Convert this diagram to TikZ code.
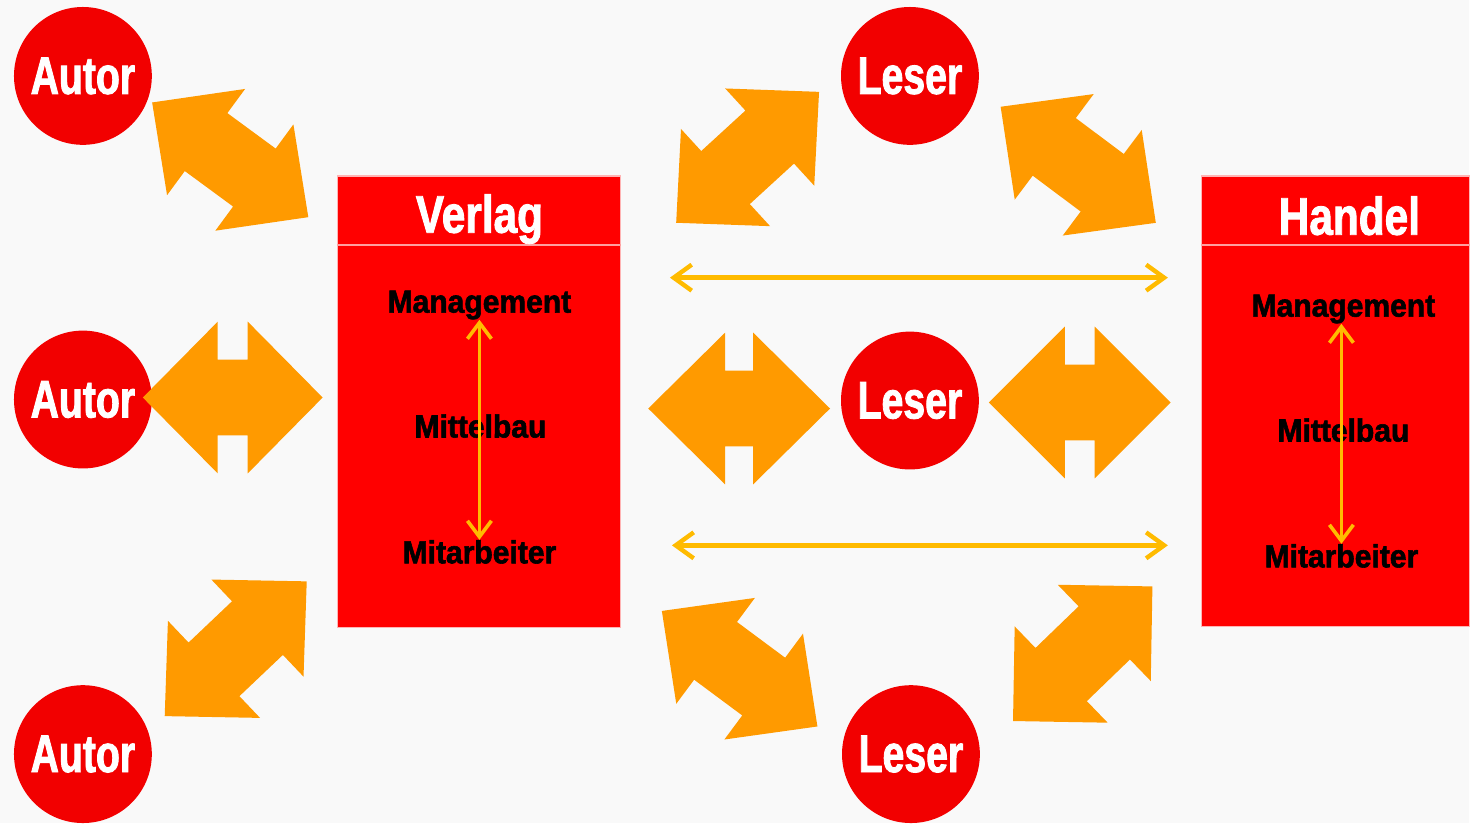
\documentclass[tikz,border=0pt]{standalone}
\usepackage{fontspec}
\setmainfont{Liberation Sans}
\newfontfamily\circfont[FakeStretch=0.74,FakeBold=1.6]{Liberation Sans}
\newfontfamily\headfont[FakeStretch=0.8,FakeBold=1.6]{Liberation Sans}
\newfontfamily\bodyfont[FakeStretch=0.94,FakeBold=1.8]{Liberation Sans}
\usetikzlibrary{arrows.meta}
\definecolor{bgc}{HTML}{F9F9F9}
\definecolor{boxred}{HTML}{FF0000}
\definecolor{circred}{HTML}{F20000}
\definecolor{fatc}{HTML}{FF9A00}
\definecolor{goldc}{HTML}{FFBB00}
\definecolor{hdrc}{HTML}{FFA0A0}
\definecolor{edgec}{HTML}{FFB4B4}
% fat double arrow: cx, cy, angle, half length, half shaft length, head half width, shaft half width
\newcommand\fatarrow[7]{%
  \begin{scope}[shift={(#1,#2)},rotate=#3]
    \fill[fatc] (-#4,0) -- (-#5,-#6) -- (-#5,-#7) -- (#5,-#7) -- (#5,-#6) -- (#4,0)
      -- (#5,#6) -- (#5,#7) -- (-#5,#7) -- (-#5,#6) -- cycle;
  \end{scope}}
\begin{document}
\begin{tikzpicture}[x=0.5pt,y=-0.5pt,
  circ/.style={circle, fill=circred, minimum size=69pt, inner sep=0pt, text=white,
    font=\circfont\bfseries\fontsize{26.5pt}{30pt}\selectfont},
  orgbox/.style={rectangle, fill=boxred, draw=edgec, line width=0.75pt, inner sep=0pt},
  headtext/.style={anchor=base, inner sep=0pt, text=white,
    font=\headfont\bfseries\fontsize{26.5pt}{30pt}\selectfont},
  bodytext/.style={anchor=base, inner sep=0pt, text=black,
    font=\bodyfont\bfseries\fontsize{16pt}{19pt}\selectfont},
  hdrline/.style={draw=hdrc, line width=1pt},
  thinarr/.style={draw=goldc, line width=2.2pt,
    {Straight Barb[length=9pt,width=13pt]}-{Straight Barb[length=9pt,width=13pt]}},
  vertarr/.style={draw=goldc, line width=1.8pt,
    {Straight Barb[length=8pt,width=12pt]}-{Straight Barb[length=8pt,width=12pt]}}
]
\fill[bgc] (0,0) rectangle (1471,824);

% organisation boxes
\node[orgbox, minimum width=141.5pt, minimum height=226pt] (verlag) at (479.5,402) {};
\node[orgbox, minimum width=134pt, minimum height=225.5pt] (handel) at (1337,401.5) {};
\draw[hdrline] (verlag.west |- 0,245) -- (verlag.east |- 0,245);
\draw[hdrline] (handel.west |- 0,245) -- (handel.east |- 0,245);
\node[headtext] (verlagT) at (480,233) {Verlag};
\node[headtext] (handelT) at (1351,235) {Handel};

\node[bodytext] (vMan) at (480,313) {Management};
\node[bodytext] (vMit) at (481,438) {Mittelbau};
\node[bodytext] (vMa) at (480,564) {Mitarbeiter};
\node[bodytext] (hMan) at (1345,317) {Management};
\node[bodytext] (hMit) at (1345,442) {Mittelbau};
\node[bodytext] (hMa) at (1343,568) {Mitarbeiter};

\draw[vertarr] (vMan.south) -- (vMa.north);
\draw[vertarr] (hMan.south -| 1343,0) -- (hMa.north -| 1343,0);

% circles
\node[circ] (autorA) at (83,76) {Autor};
\node[circ] (autorB) at (83,400) {Autor};
\node[circ] (autorC) at (83,755) {Autor};
\node[circ] (leserA) at (911,76) {Leser};
\node[circ] (leserB) at (911,401) {Leser};
\node[circ] (leserC) at (912,755) {Leser};

% thin horizontal arrows
\draw[thinarr, shorten <=24.5pt, shorten >=16.5pt] (verlag.east |- 0,278) -- (handel.west |- 0,278);
\draw[thinarr, shorten <=25.5pt, shorten >=16.5pt] (verlag.east |- 0,546) -- (handel.west |- 0,546);

% fat double arrows
\fatarrow{230.5}{160}{-36.3}{97}{30}{66}{36}
\fatarrow{233}{398}{0}{90}{15}{76}{38}
\fatarrow{236}{649.5}{43.5}{98}{30}{67}{37}
\fatarrow{748.5}{157.5}{42.5}{97}{30}{66}{36}
\fatarrow{740}{409}{0}{91}{14}{76}{38}
\fatarrow{1081}{403}{0}{91}{15}{76}{38}
\fatarrow{1079.5}{165}{-36.8}{97}{30}{66}{36}
\fatarrow{740.5}{669.5}{-36.6}{97}{30}{66}{36}
\fatarrow{1084}{654.5}{44}{97}{30}{67}{37}
\end{tikzpicture}
\end{document}
